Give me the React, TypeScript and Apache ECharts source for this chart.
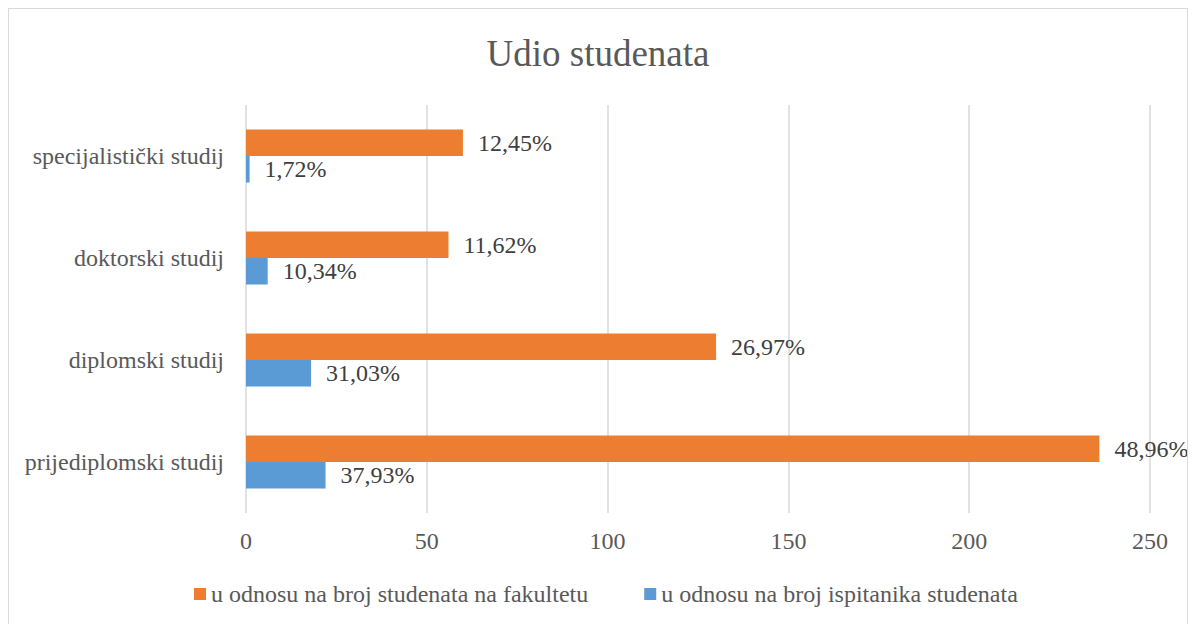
import React, { useEffect, useRef } from "react";
import * as echarts from "echarts";

const categories = ["prijediplomski studij", "diplomski studij", "doktorski studij", "specijalistički studij"];
const facultyCounts = [236, 130, 56, 60];
const respondentCounts = [22, 18, 6, 1];
const facultyLabels = ["48,96%", "26,97%", "11,62%", "12,45%"];
const respondentLabels = ["37,93%", "31,03%", "10,34%", "1,72%"];
const seriesNames = ["u odnosu na broj studenata na fakultetu", "u odnosu na broj ispitanika studenata"];
const xTicks = { min: 0, max: 250, interval: 50 };

const FONT = "Liberation Serif, Times New Roman, DejaVu Serif, serif";

export default function App() {
  const ref = useRef<HTMLDivElement>(null);
  useEffect(() => {
    if (!ref.current) return;
    const chart = echarts.init(ref.current, undefined, { renderer: "svg" });
    const txt = (size: number, color: string) => ({ fontFamily: FONT, fontSize: size, color });
    chart.setOption({
      animation: false,
      textStyle: { fontFamily: FONT },
      title: {
        text: "Udio studenata",
        left: "center",
        top: 21,
        textStyle: { ...txt(37, "#595959"), fontWeight: "normal" },
      },
      legend: {
        data: [seriesNames[0], seriesNames[1]],
        left: 180,
        top: 568,
        itemWidth: 12,
        itemHeight: 12,
        itemGap: 56,
        icon: "rect",
        textStyle: txt(24, "#595959"),
      },
      grid: { left: 237, top: 96, width: 904, height: 408, containLabel: false },
      xAxis: {
        type: "value",
        min: xTicks.min,
        max: xTicks.max,
        interval: xTicks.interval,
        axisLine: { show: false },
        axisTick: { show: false },
        axisLabel: { ...txt(24, "#595959"), margin: 16 },
        splitLine: { show: true, lineStyle: { color: "#d9d9d9", width: 1.5 } },
      },
      yAxis: {
        type: "category",
        data: categories,
        axisLine: { show: false },
        axisTick: { show: false },
        axisLabel: { ...txt(24, "#595959"), margin: 22 },
      },
      series: [
        {
          name: seriesNames[0],
          type: "bar",
          data: facultyCounts,
          barCategoryGap: "48%",
          barGap: "0%",
          itemStyle: { color: "#ED7D31" },
          label: {
            show: true,
            position: "right",
            distance: 15,
            ...txt(24, "#404040"),
            formatter: (p: any) => facultyLabels[p.dataIndex],
          },
        },
        {
          name: seriesNames[1],
          type: "bar",
          data: respondentCounts,
          barCategoryGap: "48%",
          barGap: "0%",
          itemStyle: { color: "#5B9BD5" },
          label: {
            show: true,
            position: "right",
            distance: 15,
            ...txt(24, "#404040"),
            formatter: (p: any) => respondentLabels[p.dataIndex],
          },
        },
      ],
    });
    return () => chart.dispose();
  }, []);
  return (
    <div
      style={{
        width: 1180,
        height: 640,
        border: "1px solid #d9d9d9",
        boxSizing: "border-box",
        background: "#fff",
        fontFamily: FONT,
      }}
    >
      <div ref={ref} style={{ width: 1178, height: 638 }} />
    </div>
  );
}
